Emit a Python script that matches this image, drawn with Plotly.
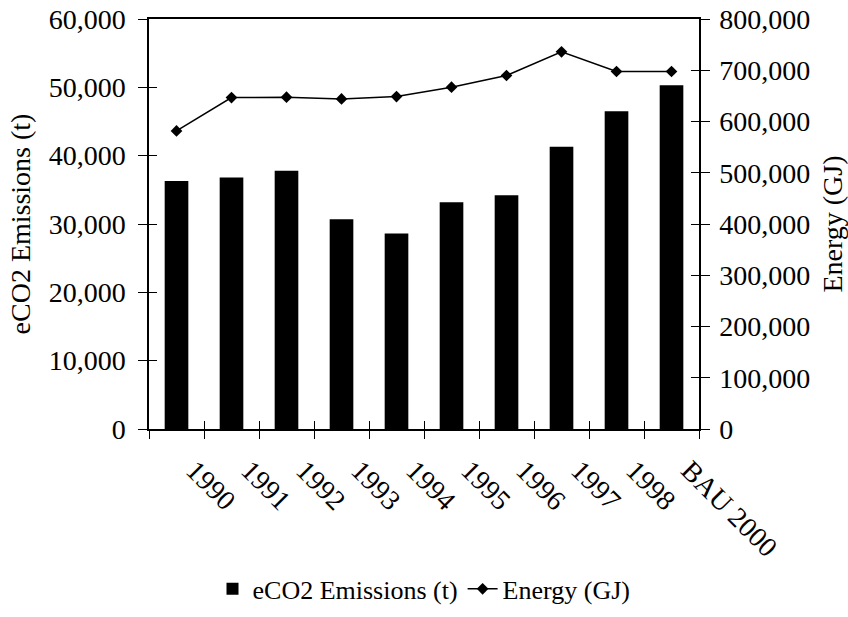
import plotly.graph_objects as go

# Yearly emissions and energy use
categories = ["1990", "1991", "1992", "1993", "1994", "1995", "1996", "1997", "1998", "BAU 2000"]
emissions_t = [36300, 36800, 37800, 30700, 28600, 33200, 34200, 41300, 46500, 50300]
energy_gj = [581600, 646700, 647500, 644000, 648700, 667000, 689800, 736000, 697600, 697600]

FONT = "Liberation Serif"
FS = 28
INK = "black"

fig = go.Figure()

fig.add_trace(go.Bar(
    x=categories, y=emissions_t, name="eCO2 Emissions (t)",
    marker=dict(color=INK, line=dict(width=0)),
    xaxis="x", yaxis="y",
))
fig.add_trace(go.Scatter(
    x=categories, y=energy_gj, name="Energy (GJ)",
    mode="lines+markers",
    line=dict(color=INK, width=1.5),
    marker=dict(symbol="diamond", size=9, color=INK),
    xaxis="x", yaxis="y2",
))

# empty helper traces so the inner-tick overlay axes get drawn
fig.add_trace(go.Scatter(x=[None], y=[None], xaxis="x2", yaxis="y3",
                         showlegend=False, hoverinfo="skip"))
fig.add_trace(go.Scatter(x=[None], y=[None], xaxis="x2", yaxis="y4",
                         showlegend=False, hoverinfo="skip"))

tickfont = dict(family=FONT, size=FS, color=INK)

fig.update_layout(
    width=848, height=617,
    margin=dict(l=149, r=149, t=19, b=188, autoexpand=False),
    paper_bgcolor="white", plot_bgcolor="white",
    font=dict(family=FONT, size=FS, color=INK),
    bargap=0.57,
    showlegend=True,
    legend=dict(orientation="h", x=0.5, xanchor="center", y=-0.39, yanchor="middle",
                font=dict(family=FONT, size=26, color=INK), itemwidth=30,
                traceorder="normal"),
    xaxis=dict(
        type="category", categoryarray=categories, range=[-0.5, 9.5],
        tickson="boundaries", ticks="outside", ticklen=8, tickwidth=1, tickcolor=INK,
        tickangle=45, tickfont=tickfont, ticklabelshift=18, ticklabelstandoff=12,
        showline=True, linecolor=INK, linewidth=1.5, mirror=True,
        showgrid=False, zeroline=False, automargin=False,
    ),
    xaxis2=dict(
        overlaying="x", anchor="y3", range=[-0.5, 9.5], tick0=-0.5, dtick=1,
        ticks="inside", ticklen=8, tickwidth=1, tickcolor=INK,
        showticklabels=False, showline=False, showgrid=False, zeroline=False,
        automargin=False,
    ),
    yaxis=dict(
        range=[0, 60000], dtick=10000, tickformat=",",
        ticks="outside", ticklen=9, tickwidth=1, tickcolor=INK, tickfont=tickfont,
        ticklabelstandoff=7,
        showline=True, linecolor=INK, linewidth=1.5,
        showgrid=False, zeroline=False, automargin=False,
        title=dict(text="eCO2 Emissions (t)", font=dict(family=FONT, size=FS, color=INK), standoff=10),
    ),
    yaxis2=dict(
        overlaying="y", side="right", anchor="x",
        range=[0, 800000], dtick=100000, tickformat=",",
        ticks="outside", ticklen=9, tickwidth=1, tickcolor=INK, tickfont=tickfont,
        ticklabelstandoff=4,
        showline=True, linecolor=INK, linewidth=1.5,
        showgrid=False, zeroline=False, automargin=False,
        title=dict(text="Energy (GJ)", font=dict(family=FONT, size=FS, color=INK), standoff=13),
    ),
    yaxis3=dict(
        overlaying="y", side="left", anchor="x2",
        range=[0, 60000], dtick=10000,
        ticks="inside", ticklen=8, tickwidth=1, tickcolor=INK,
        showticklabels=False, showline=False, showgrid=False, zeroline=False,
        automargin=False,
    ),
    yaxis4=dict(
        overlaying="y", side="right", anchor="x2",
        range=[0, 800000], dtick=100000,
        ticks="inside", ticklen=8, tickwidth=1, tickcolor=INK,
        showticklabels=False, showline=False, showgrid=False, zeroline=False,
        automargin=False,
    ),
)

fig.write_html("out.html")
